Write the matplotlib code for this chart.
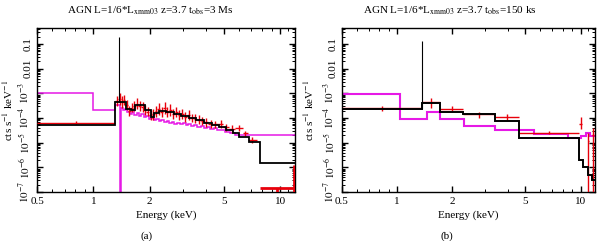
import numpy as np
import matplotlib
matplotlib.use("Agg")
import matplotlib.pyplot as plt
from matplotlib.ticker import FixedLocator, FixedFormatter, NullFormatter, LogLocator

plt.rcParams["font.family"] = ["Liberation Serif", "DejaVu Serif"]
plt.rcParams["mathtext.fontset"] = "stix"

RED = "#e8000b"
MAG = "#e619e6"

# ---- panel (a): 3 Ms ----
black_a_edges = [0.5, 1.31, 1.50, 1.58, 1.66, 1.88, 2.02, 2.12, 2.25, 2.45, 2.70, 2.95,
                 3.25, 3.55, 3.9, 4.3, 4.7, 5.1, 5.6, 6.0, 6.8, 7.8, 12.0]
black_a_vals = [5.4e-5, 4.5e-4, 2.4e-4, 2.2e-4, 3.3e-4, 2.2e-4, 1.1e-4, 1.6e-4, 1.9e-4,
                1.7e-4, 1.5e-4, 1.2e-4, 1.0e-4, 8.0e-5, 6.5e-5, 5.2e-5, 4.2e-5, 3.2e-5,
                2.5e-5, 1.75e-5, 1.1e-5, 1.5e-6]
line_a = (1.375, 0.19)

mag_a_edges = [0.5, 1.0, 1.31, 1.38, 1.40, 1.44, 1.48, 1.52, 1.56, 1.60, 1.65, 1.70, 1.75,
               1.80, 1.86, 1.92, 1.98, 2.04, 2.10, 2.17, 2.24, 2.31, 2.38, 2.46, 2.54,
               2.62, 2.71, 2.80, 2.90, 3.00, 3.11, 3.22, 3.34, 3.47, 3.60, 3.74, 3.89,
               4.05, 4.22, 4.40, 4.60, 4.82, 5.05, 5.35, 5.7, 12.0]
mag_a_vals = [1.0e-3, 2.2e-4, 3.3e-4, 1e-9, 2.6e-4, 2.2e-4, 2.4e-4, 1.8e-4, 1.5e-4, 1.7e-4,
              1.3e-4, 1.6e-4, 1.2e-4, 1.4e-4, 1.1e-4, 1.25e-4, 9.0e-5, 1.0e-4, 8.0e-5,
              9.5e-5, 7.5e-5, 8.5e-5, 7.0e-5, 7.8e-5, 6.5e-5, 7.2e-5, 6.0e-5, 6.6e-5,
              5.6e-5, 6.2e-5, 5.2e-5, 5.8e-5, 4.8e-5, 5.3e-5, 4.5e-5, 4.9e-5, 4.0e-5,
              4.4e-5, 3.6e-5, 3.9e-5, 3.2e-5, 3.4e-5, 2.8e-5, 2.5e-5, 2.0e-5]

red_a_edges = [0.5, 1.31, 1.36, 1.40, 1.44, 1.48, 1.53, 1.58, 1.63, 1.68, 1.74, 1.80, 1.86,
               1.92, 1.99, 2.06, 2.13, 2.20, 2.28, 2.36, 2.44, 2.53, 2.62, 2.72, 2.82,
               2.93, 3.04, 3.16, 3.29, 3.43, 3.58, 3.74, 3.92, 4.12, 4.35, 4.62, 4.95,
               5.3, 5.7, 6.3, 6.7, 7.5]
red_a_vals = [6.5e-5, 5.0e-4, 6.0e-4, 4.5e-4, 5.5e-4, 3.5e-4, 2.0e-4, 2.6e-4, 3.0e-4,
              3.8e-4, 3.2e-4, 2.8e-4, 2.2e-4, 1.8e-4, 1.3e-4, 1.4e-4, 1.9e-4, 2.3e-4,
              1.8e-4, 2.6e-4, 1.7e-4, 2.1e-4, 1.5e-4, 1.8e-4, 1.3e-4, 1.5e-4, 1.15e-4,
              1.3e-4, 1.0e-4, 9.5e-5, 8.5e-5, 7.5e-5, 6.8e-5, 5.8e-5, 5.5e-5, 5.8e-5,
              4.2e-5, 3.6e-5, 4.0e-5, 2.4e-5, 1.3e-5]
red_a_fac = [1.15, 1.6, 1.7, 1.7, 1.6, 1.6, 1.6, 1.5, 1.6, 1.7, 1.6, 1.6, 1.6, 1.5, 1.6,
             1.6, 1.7, 1.7, 1.6, 1.7, 1.6, 1.7, 1.6, 1.6, 1.6, 1.6, 1.6, 1.6, 1.5, 1.5,
             1.5, 1.5, 1.5, 1.4, 1.4, 1.4, 1.4, 1.4, 1.3, 1.3, 1.3]
# lowest bins (upper-limit like)
red_a_low_lo = [7.8, 11.7]
red_a_low_hi = [11.7, 12.0]
red_a_low_val = [1.4e-7, 1.4e-7]
red_a_low_up = [1.4e-7, 1.3e-6]

# ---- panel (b): 150 ks ----
black_b_edges = [0.5, 1.37, 1.71, 2.29, 3.4, 4.6, 9.8, 10.3, 10.9, 11.5, 12.0]
black_b_vals = [2.4e-4, 3.9e-4, 1.7e-4, 1.4e-4, 7.9e-5, 1.6e-5, 2.0e-6, 1.05e-6, 4.9e-7, 3.1e-7]
line_b = (1.37, 0.13)

mag_b_edges = [0.5, 1.04, 1.46, 1.71, 2.3, 3.4, 5.6, 8.5, 10.0, 10.7, 11.3, 12.0]
mag_b_vals = [9.1e-4, 9.6e-5, 1.7e-4, 9.6e-5, 4.9e-5, 3.3e-5, 2.3e-5, 1.6e-5, 1.8e-5, 2.6e-5, 1.9e-5]

red_b_lo = [0.5, 1.37, 1.71, 2.29, 3.4, 4.6, 9.8, 10.9, 11.55]
red_b_hi = [1.37, 1.71, 2.29, 3.4, 4.6, 9.8, 10.2, 11.1, 11.75]
red_b_val = [2.5e-4, 4.3e-4, 2.4e-4, 1.4e-4, 1.15e-4, 2.6e-5, 6.0e-5, 1.2e-5, 2.0e-5]
red_b_down = [6.0e-5, 1.8e-4, 7.0e-5, 4.0e-5, 3.0e-5, 4.0e-6, 2.5e-5, 1.2e-5, 2.0e-5]
red_b_up = [6.0e-5, 2.2e-4, 7.0e-5, 4.0e-5, 3.0e-5, 4.0e-6, 5.0e-5, 1.2e-5, 2.0e-5]

xticks = [0.5, 1, 2, 5, 10]
xticklabels = ["0.5", "1", "2", "5", "10"]
yticks = [1e-7, 1e-6, 1e-5, 1e-4, 1e-3, 0.01, 0.1]
yticklabels = [r"$10^{-7}$", r"$10^{-6}$", r"$10^{-5}$", r"$10^{-4}$", r"$10^{-3}$", "0.01", "0.1"]


def style(ax, ylab_x):
    ax.set_xscale("log")
    ax.set_yscale("log")
    ax.set_xlim(0.5, 12)
    ax.set_ylim(1e-7, 0.45)
    ax.xaxis.set_major_locator(FixedLocator(xticks))
    ax.xaxis.set_major_formatter(FixedFormatter(xticklabels))
    ax.xaxis.set_minor_locator(FixedLocator([0.6, 0.7, 0.8, 0.9, 3, 4, 6, 7, 8, 9, 11, 12]))
    ax.xaxis.set_minor_formatter(NullFormatter())
    ax.yaxis.set_major_locator(FixedLocator(yticks))
    ax.yaxis.set_major_formatter(FixedFormatter(yticklabels))
    ax.yaxis.set_minor_locator(LogLocator(subs=np.arange(2, 10), numticks=20))
    ax.yaxis.set_minor_formatter(NullFormatter())
    ax.tick_params(which="both", direction="in", top=True, right=True, labelsize=8)
    ax.tick_params(which="major", length=4, width=1.0)
    ax.tick_params(which="minor", length=2, width=0.7)
    for lab in ax.get_yticklabels():
        lab.set_rotation(90)
        lab.set_va("center")
    for s in ax.spines.values():
        s.set_linewidth(1.0)
    ax.set_xlabel("Energy (keV)", fontsize=8, labelpad=3)
    ax.set_ylabel(r"cts s$^{-1}$ keV$^{-1}$", fontsize=8)
    ax.yaxis.set_label_coords(ylab_x, 0.5)


def red_err(ax, lo, hi, val, down, up, lw=1.0):
    lo = np.array(lo)
    hi = np.array(hi)
    c = np.sqrt(lo * hi)
    ax.errorbar(c, val, xerr=[c - lo, hi - c], yerr=[down, up], fmt="none",
                ecolor=RED, elinewidth=lw, capsize=0, zorder=3)


fig = plt.figure(figsize=(6.0, 2.41), dpi=100)
axa = fig.add_axes([0.062, 0.203, 0.430, 0.681])
axb = fig.add_axes([0.570, 0.203, 0.422, 0.681])

# (a)
axa.stairs(mag_a_vals, mag_a_edges, baseline=None, color=MAG, lw=1.1, zorder=2)
axa.stairs(black_a_vals, black_a_edges, baseline=None, color="black", lw=1.3, zorder=4)
axa.vlines(line_a[0], black_a_vals[1], line_a[1], color="black", lw=0.8, zorder=4)
ea = np.array(red_a_edges)
va = np.array(red_a_vals)
fa = np.array(red_a_fac)
red_err(axa, ea[:-1], ea[1:], va, va - va / fa, va * fa - va)
red_err(axa, red_a_low_lo, red_a_low_hi, red_a_low_val,
        np.array(red_a_low_val) * 0.99, np.array(red_a_low_up) - np.array(red_a_low_val), lw=2.0)
style(axa, -0.085)

# (b)
axb.stairs(mag_b_vals, mag_b_edges, baseline=None, color=MAG, lw=1.5, zorder=2)
axb.stairs(black_b_vals, black_b_edges, baseline=None, color="black", lw=1.4, zorder=4)
axb.vlines(line_b[0], black_b_vals[0], line_b[1], color="black", lw=0.8, zorder=4)
red_err(axb, red_b_lo, red_b_hi, red_b_val, np.array(red_b_down) * 0.999, red_b_up)
style(axb, -0.103)

fig.text(0.25, 0.955, r"AGN L=1/6*L$_{\rm xmm03}$ z=3.7 t$_{\rm obs}$=3 Ms",
         ha="center", va="center", fontsize=8)
fig.text(0.75, 0.955, r"AGN L=1/6*L$_{\rm xmm03}$ z=3.7 t$_{\rm obs}$=150 ks",
         ha="center", va="center", fontsize=8)
fig.text(0.245, 0.022, "(a)", ha="center", va="center", fontsize=8)
fig.text(0.745, 0.022, "(b)", ha="center", va="center", fontsize=8)

fig.savefig("out.png", dpi=100)
